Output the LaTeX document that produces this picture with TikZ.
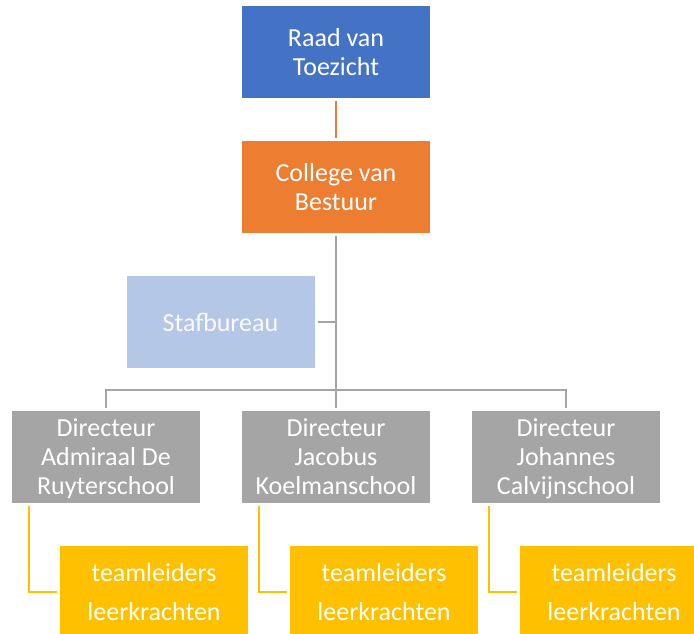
\documentclass[tikz,border=0pt]{standalone}
\usepackage{fontspec}
\setmainfont{Carlito}
\definecolor{raadblue}{HTML}{4472C4}
\definecolor{collegeorange}{HTML}{ED7D31}
\definecolor{stafblue}{HTML}{B4C7E7}
\definecolor{dirgray}{HTML}{A5A5A5}
\definecolor{teamyellow}{HTML}{FFC000}
\tikzset{
  box/.style = {rectangle, inner sep = 0pt, minimum width = 188pt, minimum height = 92pt,
                align = center, text = white, font = \fontsize{26}{29}\selectfont,
                text depth = 0pt},
  teambox/.style = {box, fill = teamyellow, font = \fontsize{26}{39}\selectfont},
  link/.style = {line width = 2pt, color = dirgray}
}
\begin{document}
\begin{tikzpicture}[x = 1pt, y = -1pt]
\useasboundingbox (0,0) rectangle (694,634);
\clip (0,0) rectangle (694,634);
\node [box, fill = raadblue] (raad) at (336,52) {Raad van\\Toezicht};
\node [box, fill = collegeorange] (college) at (336,187) {College van\\Bestuur};
\node [box, fill = stafblue, text = white!92!stafblue] (staf) at (220.5,322) {Stafbureau};
\node [box, fill = dirgray] (dir1) at (106,457) {Directeur\\Admiraal De\\Ruyterschool};
\node [box, fill = dirgray] (dir2) at (336,457) {Directeur\\Jacobus\\Koelmanschool};
\node [box, fill = dirgray] (dir3) at (566,457) {Directeur\\Johannes\\Calvijnschool};
\node [teambox] (team1) at (154,592) {teamleiders\\leerkrachten};
\node [teambox] (team2) at (384,592) {teamleiders\\leerkrachten};
\node [teambox] (team3) at (614,592) {teamleiders\\leerkrachten};
\coordinate (bus) at (336,390);
\coordinate (stafjoin) at (336,322);
% lines
\draw [link, color = collegeorange] ([yshift = -3pt]raad.south) -- ([yshift = 3pt]college.north);
\draw [link] ([yshift = -3pt]college.south) -- (bus);
\draw [link] ([xshift = 3pt]staf.east) -- (stafjoin);
\draw [link] ([yshift = 3pt]dir1.north) -- (dir1.north |- bus) -- (dir3.north |- bus) -- ([yshift = 3pt]dir3.north);
\draw [link] (bus) -- ([yshift = 3pt]dir2.north);
\foreach \i in {1,2,3}
  \draw [link, color = teamyellow] ([shift = {(17pt,-3pt)}]dir\i.south west) |- ([xshift = -3pt]team\i.west);
\end{tikzpicture}
\end{document}
